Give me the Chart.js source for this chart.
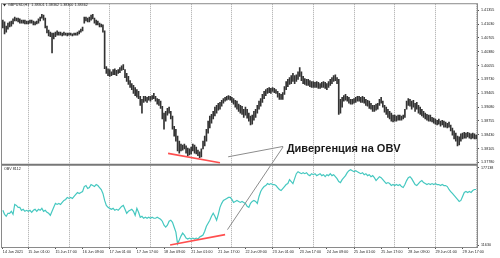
<!DOCTYPE html>
<html>
<head>
<meta charset="utf-8">
<script src="https://cdn.jsdelivr.net/npm/chart.js@4.4.0/dist/chart.umd.min.js"></script>
<style>
  html, body { margin: 0; padding: 0; background: #fff; }
</style>
</head>
<body>
<canvas id="myChart" width="500" height="258"></canvas>
<script>
// GBPUSD H1 bars, 14 Jun 2021 10:00 .. 30 Jun 2021 01:00
const highs = [
  1.4112, 1.4108, 1.4098, 1.4105, 1.4108, 1.4110, 1.4115, 1.4119, 1.4117, 1.4117,
  1.4115, 1.4112, 1.4112, 1.4112, 1.4110, 1.4110, 1.4112, 1.4112, 1.4110, 1.4108,
  1.4110, 1.4115, 1.4119, 1.4126, 1.4124, 1.4117, 1.4098, 1.4089, 1.4084, 1.4082,
  1.4082, 1.4084, 1.4087, 1.4084, 1.4084, 1.4082, 1.4084, 1.4082, 1.4082, 1.4082,
  1.4082, 1.4080, 1.4082, 1.4082, 1.4084, 1.4087, 1.4091, 1.4096, 1.4119, 1.4119,
  1.4117, 1.4119, 1.4124, 1.4126, 1.4117, 1.4112, 1.4110, 1.4105, 1.4103, 1.4101,
  1.4087, 1.4003, 1.3998, 1.3996, 1.3991, 1.3996, 1.3998, 1.3994, 1.3996, 1.4001,
  1.4005, 1.4008, 1.3996, 1.3987, 1.3980, 1.3970, 1.3963, 1.3959, 1.3954, 1.3949,
  1.3945, 1.3933, 1.3926, 1.3933, 1.3933, 1.3931, 1.3933, 1.3933, 1.3935, 1.3940,
  1.3933, 1.3928, 1.3926, 1.3922, 1.3910, 1.3894, 1.3898, 1.3905, 1.3908, 1.3898,
  1.3887, 1.3863, 1.3856, 1.3840, 1.3828, 1.3821, 1.3819, 1.3821, 1.3817, 1.3812,
  1.3810, 1.3814, 1.3821, 1.3819, 1.3814, 1.3807, 1.3803, 1.3810, 1.3828, 1.3840,
  1.3856, 1.3875, 1.3887, 1.3891, 1.3898, 1.3908, 1.3912, 1.3917, 1.3919, 1.3924,
  1.3928, 1.3931, 1.3933, 1.3935, 1.3933, 1.3931, 1.3928, 1.3924, 1.3922, 1.3915,
  1.3912, 1.3910, 1.3903, 1.3908, 1.3903, 1.3894, 1.3887, 1.3889, 1.3898, 1.3903,
  1.3912, 1.3922, 1.3928, 1.3938, 1.3945, 1.3949, 1.3952, 1.3954, 1.3952, 1.3954,
  1.3952, 1.3949, 1.3945, 1.3940, 1.3938, 1.3942, 1.3956, 1.3968, 1.3973, 1.3977,
  1.3982, 1.3987, 1.3982, 1.3984, 1.3991, 1.4001, 1.3991, 1.3980, 1.3975, 1.3973,
  1.3973, 1.3970, 1.3968, 1.3968, 1.3966, 1.3968, 1.3966, 1.3963, 1.3966, 1.3968,
  1.3966, 1.3963, 1.3968, 1.3973, 1.3977, 1.3982, 1.3984, 1.3977, 1.3973, 1.3926,
  1.3931, 1.3935, 1.3938, 1.3933, 1.3931, 1.3926, 1.3926, 1.3928, 1.3931, 1.3933,
  1.3933, 1.3931, 1.3933, 1.3931, 1.3926, 1.3924, 1.3922, 1.3917, 1.3912, 1.3912,
  1.3915, 1.3917, 1.3926, 1.3931, 1.3922, 1.3912, 1.3908, 1.3903, 1.3898, 1.3894,
  1.3889, 1.3889, 1.3887, 1.3889, 1.3889, 1.3887, 1.3889, 1.3903, 1.3922, 1.3928,
  1.3926, 1.3922, 1.3924, 1.3917, 1.3919, 1.3912, 1.3908, 1.3903, 1.3898, 1.3894,
  1.3891, 1.3889, 1.3889, 1.3884, 1.3882, 1.3880, 1.3877, 1.3880, 1.3875, 1.3877,
  1.3875, 1.3873, 1.3870, 1.3873, 1.3866, 1.3859, 1.3852, 1.3847, 1.3840, 1.3838,
  1.3845, 1.3847, 1.3849, 1.3847, 1.3849, 1.3847, 1.3845, 1.3847, 1.3845, 1.3842
];
const lows = [
  1.4094, 1.4080, 1.4084, 1.4091, 1.4096, 1.4098, 1.4103, 1.4110, 1.4110, 1.4108,
  1.4105, 1.4105, 1.4105, 1.4103, 1.4103, 1.4103, 1.4105, 1.4105, 1.4101, 1.4101,
  1.4103, 1.4105, 1.4110, 1.4117, 1.4112, 1.4094, 1.4082, 1.4075, 1.4073, 1.4035,
  1.4068, 1.4073, 1.4077, 1.4077, 1.4077, 1.4075, 1.4077, 1.4077, 1.4075, 1.4077,
  1.4077, 1.4075, 1.4077, 1.4077, 1.4077, 1.4080, 1.4084, 1.4087, 1.4105, 1.4110,
  1.4108, 1.4108, 1.4112, 1.4115, 1.4105, 1.4101, 1.4101, 1.4096, 1.4096, 1.4084,
  1.3998, 1.3987, 1.3982, 1.3980, 1.3982, 1.3984, 1.3984, 1.3982, 1.3987, 1.3989,
  1.3994, 1.3996, 1.3977, 1.3968, 1.3961, 1.3954, 1.3949, 1.3940, 1.3935, 1.3931,
  1.3928, 1.3912, 1.3894, 1.3919, 1.3922, 1.3919, 1.3924, 1.3922, 1.3926, 1.3928,
  1.3922, 1.3915, 1.3912, 1.3905, 1.3880, 1.3856, 1.3875, 1.3889, 1.3894, 1.3880,
  1.3856, 1.3840, 1.3828, 1.3805, 1.3800, 1.3805, 1.3807, 1.3810, 1.3800, 1.3794,
  1.3796, 1.3798, 1.3805, 1.3800, 1.3798, 1.3794, 1.3789, 1.3791, 1.3810, 1.3817,
  1.3828, 1.3847, 1.3859, 1.3870, 1.3880, 1.3887, 1.3894, 1.3901, 1.3903, 1.3910,
  1.3917, 1.3922, 1.3924, 1.3926, 1.3924, 1.3919, 1.3915, 1.3908, 1.3903, 1.3898,
  1.3894, 1.3891, 1.3884, 1.3889, 1.3882, 1.3875, 1.3866, 1.3868, 1.3877, 1.3884,
  1.3894, 1.3903, 1.3910, 1.3919, 1.3928, 1.3935, 1.3940, 1.3942, 1.3940, 1.3945,
  1.3942, 1.3940, 1.3931, 1.3926, 1.3926, 1.3926, 1.3938, 1.3949, 1.3956, 1.3961,
  1.3963, 1.3968, 1.3963, 1.3968, 1.3973, 1.3980, 1.3970, 1.3963, 1.3961, 1.3959,
  1.3959, 1.3956, 1.3954, 1.3954, 1.3954, 1.3954, 1.3952, 1.3952, 1.3954, 1.3954,
  1.3952, 1.3949, 1.3954, 1.3959, 1.3963, 1.3968, 1.3970, 1.3963, 1.3891, 1.3894,
  1.3908, 1.3922, 1.3924, 1.3922, 1.3917, 1.3915, 1.3915, 1.3917, 1.3919, 1.3922,
  1.3922, 1.3919, 1.3919, 1.3917, 1.3912, 1.3910, 1.3905, 1.3903, 1.3898, 1.3898,
  1.3901, 1.3903, 1.3912, 1.3917, 1.3908, 1.3896, 1.3891, 1.3884, 1.3880, 1.3875,
  1.3873, 1.3875, 1.3875, 1.3877, 1.3877, 1.3877, 1.3880, 1.3884, 1.3903, 1.3912,
  1.3910, 1.3903, 1.3908, 1.3898, 1.3903, 1.3894, 1.3891, 1.3887, 1.3884, 1.3880,
  1.3877, 1.3875, 1.3875, 1.3873, 1.3870, 1.3868, 1.3866, 1.3868, 1.3863, 1.3866,
  1.3861, 1.3861, 1.3859, 1.3861, 1.3852, 1.3842, 1.3833, 1.3828, 1.3817, 1.3819,
  1.3828, 1.3833, 1.3835, 1.3835, 1.3838, 1.3835, 1.3833, 1.3835, 1.3833, 1.3833
];
const obv = [
  85900, 77400, 73200, 79500, 79500, 83800, 77400, 98600, 96500, 92300,
  92300, 85900, 88000, 83800, 85900, 83800, 85900, 81700, 85900, 88000,
  83800, 88000, 85900, 90100, 83800, 85900, 81700, 79500, 75300, 83800,
  92300, 100800, 98600, 100800, 98600, 102900, 107100, 109200, 113500, 111400,
  113500, 111400, 115600, 119900, 124100, 122000, 124100, 126200, 136800, 139000,
  132600, 134700, 141100, 139000, 136800, 141100, 139000, 134700, 130500, 122000,
  107100, 96500, 92300, 90100, 88000, 90100, 85900, 88000, 85900, 90100,
  94400, 96500, 88000, 79500, 83800, 85900, 88000, 83800, 75300, 90100,
  81700, 71000, 73200, 68900, 71000, 68900, 71000, 68900, 71000, 68900,
  68900, 71000, 68900, 66800, 62600, 54100, 49800, 54100, 62600, 64700,
  60400, 49800, 39200, 14200, 22200, 30700, 37100, 32900, 26500, 24400,
  26500, 24400, 26500, 24400, 26500, 24400, 28600, 30700, 32900, 41300,
  51900, 58300, 64700, 73200, 79500, 73200, 64700, 77400, 92300, 100800,
  107100, 109200, 111400, 113500, 113500, 109200, 102900, 105000, 107100, 105000,
  102900, 105000, 102900, 100800, 94400, 92300, 100800, 105000, 107100, 105000,
  100800, 115600, 126200, 132600, 136800, 139000, 143200, 141100, 143200, 141100,
  141100, 139000, 134700, 130500, 128300, 132600, 136800, 141100, 143200, 151700,
  147400, 143200, 153800, 164400, 168700, 166500, 164400, 166500, 164400, 166500,
  162300, 160200, 164400, 162300, 164400, 160200, 162300, 164400, 160200, 162300,
  158000, 162300, 160200, 164400, 160200, 162300, 158000, 153800, 147400, 145300,
  151700, 155900, 160200, 166500, 170800, 172900, 170800, 168700, 170800, 168700,
  166500, 164400, 166500, 162300, 164400, 160200, 162300, 158000, 160200, 155900,
  149600, 153800, 158000, 155900, 151700, 147400, 143200, 145300, 143200, 139000,
  141100, 139000, 141100, 139000, 141100, 136800, 134700, 141100, 149600, 155900,
  158000, 153800, 147400, 141100, 139000, 143200, 147400, 149600, 145300, 143200,
  141100, 143200, 141100, 143200, 141100, 143200, 141100, 141100, 139000, 141100,
  139000, 139000, 136800, 130500, 126200, 122000, 117700, 113500, 109200, 105000,
  107100, 115600, 124100, 126200, 124100, 126200, 124100, 128300, 130500, 130500
];

const priceTicks = [1.37780, 1.38105, 1.38430, 1.38755, 1.39080, 1.39405,
  1.39730, 1.40055, 1.40380, 1.40705, 1.41030, 1.41355];
const obvTicks = [11630, 177138];
const xTickLabels = ['15 Jun 01:00', '15 Jun 17:00', '16 Jun 09:00', '17 Jun 01:00',
  '17 Jun 17:00', '18 Jun 09:00', '21 Jun 01:00', '21 Jun 17:00', '22 Jun 09:00',
  '23 Jun 01:00', '23 Jun 17:00', '24 Jun 09:00', '25 Jun 01:00', '25 Jun 17:00',
  '28 Jun 09:00', '29 Jun 01:00', '29 Jun 17:00'];
const firstLabel = '14 Jun 2021';
const priceTitle = 'GBPUSD,H1  1.38301 1.38362 1.38300 1.38362';
const obvTitle = 'OBV 8112';

// divergence marks: [bar index, value]
const priceTrend = [[97.4, 1.37994], [128, 1.37773]];
const obvTrend = [[98.6, 11630], [131, 33900]];
const calloutPrice = [[132.8, 1.37913], [165.2, 1.38157]];
const calloutObv = [[132.4, 44500], [165.2, 1.38145]];
const calloutText = 'Дивергенция на OBV';
const calloutAt = [167.3, 1.3803];

// hourly categories, weekends skipped
const months = ['Jan', 'Feb', 'Mar', 'Apr', 'May', 'Jun', 'Jul', 'Aug', 'Sep', 'Oct', 'Nov', 'Dec'];
const categories = [];
for (let t = Date.UTC(2021, 5, 14, 10); categories.length < obv.length; t += 3600000) {
  const d = new Date(t);
  if (d.getUTCDay() === 0 || d.getUTCDay() === 6) continue;
  categories.push(d.getUTCDate() + ' ' + months[d.getUTCMonth()] + ' ' +
    String(d.getUTCHours()).padStart(2, '0') + ':00');
}

const tickText = i => i === 0 ? firstLabel : (xTickLabels.includes(categories[i]) ? categories[i] : '');
const isDay = i => categories[i] && categories[i].endsWith(' 01:00');
const tinyFont = {family: "'Liberation Sans', Arial, sans-serif", size: 3.7};

const overlay = {
  id: 'overlay',
  afterDraw(chart) {
    const {ctx, chartArea: a, scales: {x, y, y2}} = chart;
    const pt = (p, s) => [x.getPixelForValue(p[0]), s.getPixelForValue(p[1])];
    const line = (p1, p2, color, w) => {
      ctx.strokeStyle = color;
      ctx.lineWidth = w;
      ctx.beginPath();
      ctx.moveTo(p1[0], p1[1]);
      ctx.lineTo(p2[0], p2[1]);
      ctx.stroke();
    };
    ctx.save();
    // frame + pane separator
    ctx.strokeStyle = '#8a8a8a';
    ctx.lineWidth = 1;
    ctx.strokeRect(a.left - 0.5, a.top - 0.5, a.right - a.left + 1, a.bottom - a.top + 1);
    line([a.left, y.bottom], [a.right, y.bottom], '#777', 2);

    // divergence lines
    line(pt(priceTrend[0], y), pt(priceTrend[1], y), '#ff4f4f', 1.6);
    line(pt(obvTrend[0], y2), pt(obvTrend[1], y2), '#ff4f4f', 1.6);
    line(pt(calloutPrice[0], y), pt(calloutPrice[1], y), '#8c8c8c', 1);
    line(pt(calloutObv[0], y2), pt(calloutObv[1], y), '#8c8c8c', 1);

    const t = pt(calloutAt, y);
    ctx.fillStyle = '#1a1a1a';
    ctx.font = "bold 11px 'Liberation Sans', Arial, sans-serif";
    ctx.textBaseline = 'alphabetic';
    ctx.fillText(calloutText, t[0], t[1]);

    // pane titles
    ctx.font = "3.7px 'Liberation Sans', Arial, sans-serif";
    ctx.textBaseline = 'middle';
    ctx.fillStyle = '#222';
    ctx.beginPath();
    ctx.moveTo(3, 4); ctx.lineTo(6, 4); ctx.lineTo(4.5, 6.5); ctx.closePath();
    ctx.fill();
    ctx.fillText(priceTitle, 8, 5);
    ctx.fillText(obvTitle, 4, y.bottom + 4);
    ctx.restore();
  }
};

const ctx = document.getElementById('myChart');

new Chart(ctx, {
  type: 'bar',
  data: {
    labels: categories,
    datasets: [{
      label: 'GBPUSD,H1',
      data: lows.map((l, i) => [l, highs[i]]),
      backgroundColor: '#333333',
      barThickness: 1,
      yAxisID: 'y',
      order: 2
    }, {
      type: 'line',
      label: 'OBV',
      data: obv,
      borderColor: '#45c8c0',
      borderWidth: 1.2,
      pointRadius: 0,
      tension: 0,
      yAxisID: 'y2',
      order: 1
    }]
  },
  options: {
    responsive: false,
    animation: false,
    devicePixelRatio: 1,
    layout: {padding: {left: 2, top: 2, right: 0, bottom: 0}},
    plugins: {legend: {display: false}, tooltip: {enabled: false}},
    scales: {
      x: {
        offset: true,
        grid: {
          offset: false,
          lineWidth: 1,
          color: c => isDay(c.index) ? '#a8a8a8' : 'rgba(0,0,0,0)',
          tickColor: c => tickText(c.index) ? '#555' : 'rgba(0,0,0,0)',
          tickLength: 2
        },
        border: {display: false, dash: [1, 1]},
        ticks: {
          autoSkip: false, maxRotation: 0, minRotation: 0, align: 'start',
          padding: 0.5, color: '#222', font: tinyFont,
          callback: (v, i) => tickText(i)
        },
        afterFit: s => { s.height = 11; }
      },
      y: {
        position: 'right', stack: 'panes', stackWeight: 162,
        min: 1.377264, max: 1.414946, bounds: 'data',
        grid: {drawOnChartArea: false, tickLength: 2, tickColor: '#555'},
        border: {display: false},
        ticks: {padding: 2, color: '#222', font: tinyFont, callback: v => v.toFixed(5)},
        afterBuildTicks: s => { s.ticks = priceTicks.map(v => ({value: v})); },
        afterFit: s => { s.width = 23; }
      },
      y2: {
        position: 'right', stack: 'panes', stackWeight: 83,
        min: 7386, max: 183512, bounds: 'data',
        grid: {drawOnChartArea: false, tickLength: 2, tickColor: '#555'},
        border: {display: false},
        ticks: {padding: 2, color: '#222', font: tinyFont, callback: v => String(v)},
        afterBuildTicks: s => { s.ticks = obvTicks.map(v => ({value: v})); },
        afterFit: s => { s.width = 23; }
      }
    }
  },
  plugins: [overlay]
});
</script>
</body>
</html>
